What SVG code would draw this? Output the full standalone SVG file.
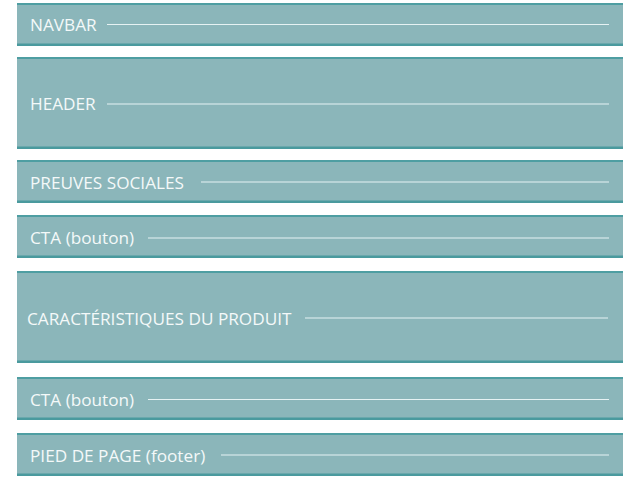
<svg xmlns="http://www.w3.org/2000/svg" width="640" height="480" viewBox="0 0 640 480">
<style>
.box{fill:#8bb6ba}
.top{fill:#4e9ea2}
.bot{fill:#4a9a9e}
.lbl{font-family:"Open Sans","DejaVu Sans",sans-serif;font-size:17.2px;font-weight:400;fill:#f4f9f9}
.ln{stroke:#e6f2f3;stroke-width:1.2}
</style>
<rect width="640" height="480" fill="#ffffff"/>
<g id="navbar">
<rect class="box" x="17" y="3" width="606" height="43"/>
<rect class="top" x="17" y="3" width="606" height="2"/>
<rect class="bot" x="17" y="43.5" width="606" height="2.5"/>
<text class="lbl" x="30" y="31">NAVBAR</text>
</g>
<g id="header">
<rect class="box" x="17" y="57" width="606" height="92"/>
<rect class="top" x="17" y="57" width="606" height="2"/>
<rect class="bot" x="17" y="146.5" width="606" height="2.5"/>
<text class="lbl" x="30" y="110">HEADER</text>
</g>
<g id="preuves">
<rect class="box" x="17" y="160" width="606" height="43"/>
<rect class="top" x="17" y="160" width="606" height="2"/>
<rect class="bot" x="17" y="200.5" width="606" height="2.5"/>
<text class="lbl" x="30" y="189">PREUVES SOCIALES</text>
</g>
<g id="cta1">
<rect class="box" x="17" y="215" width="606" height="43"/>
<rect class="top" x="17" y="215" width="606" height="2"/>
<rect class="bot" x="17" y="255.5" width="606" height="2.5"/>
<text class="lbl" x="30" y="244">CTA (bouton)</text>
</g>
<g id="caracteristiques">
<rect class="box" x="17" y="271" width="606" height="92"/>
<rect class="top" x="17" y="271" width="606" height="2"/>
<rect class="bot" x="17" y="360.5" width="606" height="2.5"/>
<text class="lbl" x="27" y="325">CARACTÉRISTIQUES DU PRODUIT</text>
</g>
<g id="cta2">
<rect class="box" x="17" y="377" width="606" height="43"/>
<rect class="top" x="17" y="377" width="606" height="2"/>
<rect class="bot" x="17" y="417.5" width="606" height="2.5"/>
<text class="lbl" x="30" y="406">CTA (bouton)</text>
</g>
<g id="footer">
<rect class="box" x="17" y="433" width="606" height="43"/>
<rect class="top" x="17" y="433" width="606" height="2"/>
<rect class="bot" x="17" y="473.5" width="606" height="2.5"/>
<text class="lbl" x="30" y="462">PIED DE PAGE (footer)</text>
</g>
<g id="connectors">
<line class="ln" x1="107" y1="24.5" x2="609" y2="24.5"/>
<line class="ln" x1="107" y1="104" x2="609" y2="104"/>
<line class="ln" x1="201" y1="182" x2="609" y2="182"/>
<line class="ln" x1="148" y1="238" x2="609" y2="238"/>
<line class="ln" x1="305" y1="318" x2="608" y2="318"/>
<line class="ln" x1="148" y1="399.5" x2="609" y2="399.5"/>
<line class="ln" x1="221" y1="455" x2="609" y2="455"/>
</g>
</svg>
